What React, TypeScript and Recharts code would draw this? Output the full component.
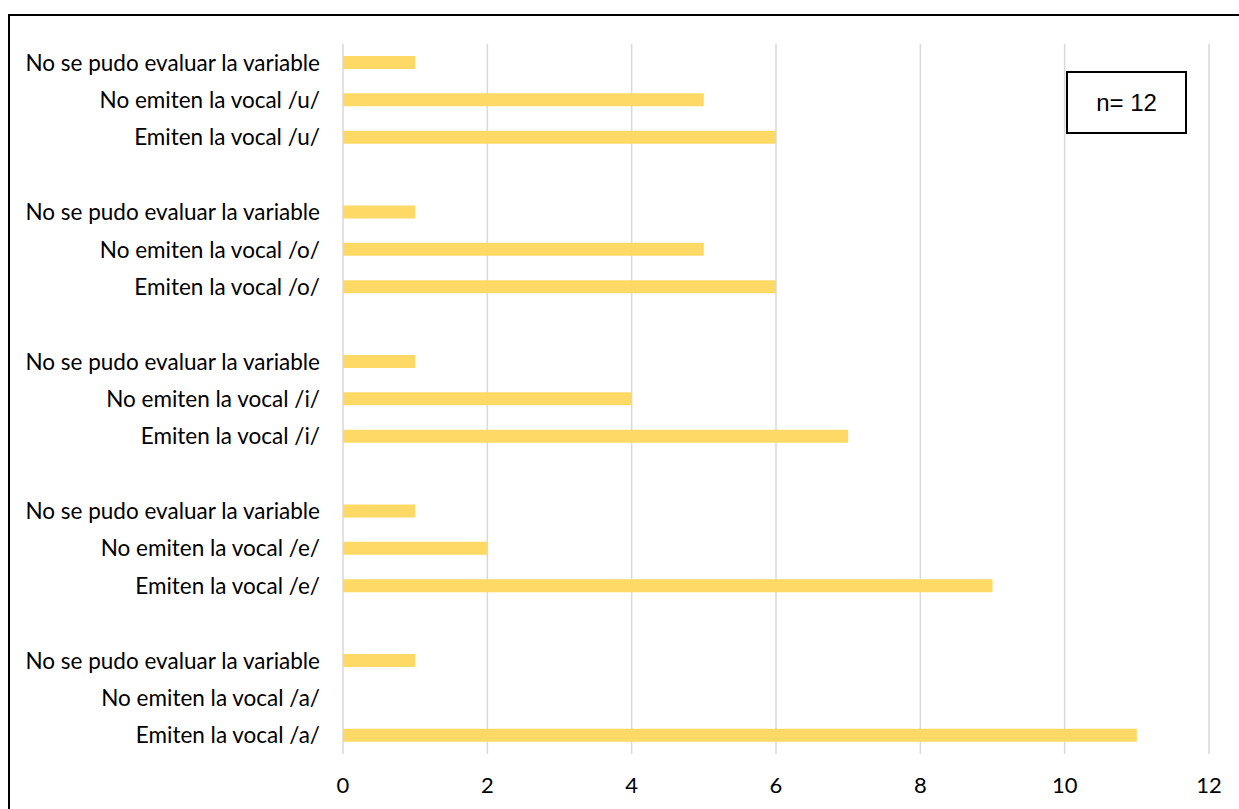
import React from 'react';
import { BarChart, Bar, XAxis, YAxis, CartesianGrid } from 'recharts';

// top to bottom, empty strings are the spacer rows between vowel groups
const categories = [
  'No se pudo evaluar la variable',
  'No emiten la vocal /u/',
  'Emiten la vocal /u/',
  '',
  'No se pudo evaluar la variable',
  'No emiten la vocal /o/',
  'Emiten la vocal /o/',
  '',
  'No se pudo evaluar la variable',
  'No emiten la vocal /i/',
  'Emiten la vocal /i/',
  '',
  'No se pudo evaluar la variable',
  'No emiten la vocal /e/',
  'Emiten la vocal /e/',
  '',
  'No se pudo evaluar la variable',
  'No emiten la vocal /a/',
  'Emiten la vocal /a/',
];

const counts = [1, 5, 6, null, 1, 5, 6, null, 1, 4, 7, null, 1, 2, 9, null, 1, 0, 11];

const xTicks = [0, 2, 4, 6, 8, 10, 12];

const sampleLabel = 'n= 12';

const data = categories.map((label, i) => ({ key: i, label, value: counts[i] }));

const FONT = 'Lato, "Liberation Sans", sans-serif';

export default function App() {
  return (
    <div
      style={{
        position: 'fixed',
        left: 0,
        top: 0,
        width: 1239,
        height: 809,
        overflow: 'hidden',
        background: '#fff',
      }}
    >
      <div
        style={{
          position: 'absolute',
          left: 8,
          top: 14,
          width: 1300,
          height: 900,
          border: '2px solid #000',
        }}
      />
      <div style={{ position: 'absolute', left: 0, top: 1 }}>
        <BarChart
          width={1239}
          height={808}
          data={data}
          layout="vertical"
          margin={{ top: 43, right: 30, bottom: 0, left: 0 }}
        >
          <CartesianGrid horizontal={false} stroke="#d9d9d9" strokeWidth={1.5} />
          <XAxis
            type="number"
            domain={[0, 12]}
            ticks={xTicks}
            axisLine={false}
            tickLine={false}
            tickSize={0}
            tickMargin={23}
            height={55}
            tick={{ fill: '#000', fontSize: 22, fontFamily: FONT }}
          />
          <YAxis
            type="category"
            dataKey="key"
            width={343}
            axisLine={false}
            tickLine={false}
            tickSize={0}
            tickMargin={23}
            interval={0}
            tickFormatter={(i) => categories[i]}
            tick={{ fill: '#000', fontSize: 22.5, fontFamily: FONT }}
          />
          <Bar dataKey="value" fill="#ffd966" barSize={13} isAnimationActive={false} />
        </BarChart>
      </div>
      <div
        style={{
          position: 'absolute',
          left: 1066,
          top: 71,
          width: 117,
          height: 59,
          border: '2px solid #000',
          display: 'flex',
          alignItems: 'center',
          justifyContent: 'center',
          fontFamily: '"Liberation Sans", Arial, sans-serif',
          fontSize: 24,
          color: '#000',
          background: '#fff',
        }}
      >
        {sampleLabel}
      </div>
    </div>
  );
}
